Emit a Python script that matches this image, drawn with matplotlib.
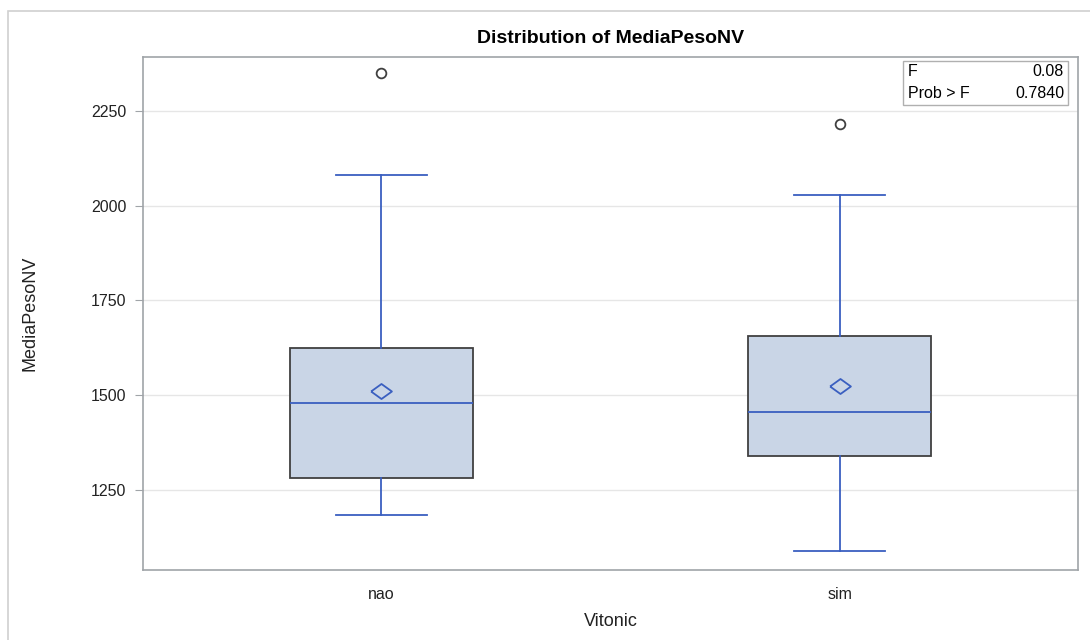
import matplotlib
matplotlib.use('Agg')
import matplotlib.pyplot as plt
from matplotlib.patches import Rectangle

# values
groups = ['nao', 'sim']
whislo = [1184, 1089]
q1 = [1282, 1340]
med = [1479, 1455]
q3 = [1625, 1657]
whishi = [2081, 2029]
means = [1511, 1524]
outliers = [[2350], [2216]]
f_value = '0.08'
prob_f = '0.7840'
yticks = [1250, 1500, 1750, 2000, 2250]

blue = '#3a5fc0'
fill = '#c9d5e6'

plt.rcParams['font.family'] = ['Liberation Sans', 'DejaVu Sans']

fig = plt.figure(figsize=(10.9, 6.4), dpi=100)
fig.patches.append(Rectangle((8 / 1090, -0.05), 1.2, 1.05 - 11 / 640,
                             transform=fig.transFigure, fill=False,
                             edgecolor='#d0d0d0', linewidth=1.2))
ax = fig.add_axes([143 / 1090, 70 / 640, 935 / 1090, 513 / 640])

stats = []
for i in range(len(groups)):
    stats.append({'label': groups[i], 'whislo': whislo[i], 'q1': q1[i],
                  'med': med[i], 'q3': q3[i], 'whishi': whishi[i],
                  'mean': means[i], 'fliers': outliers[i]})

diamond = [(-1, 0), (0, 0.72), (1, 0), (0, -0.72), (-1, 0)]
ax.bxp(stats, positions=[0.01, 0.99], widths=0.39,
       patch_artist=True, showmeans=True, capwidths=0.195,
       boxprops=dict(facecolor=fill, edgecolor='#404040', linewidth=1.3),
       medianprops=dict(color=blue, linewidth=1.3),
       whiskerprops=dict(color=blue, linewidth=1.3),
       capprops=dict(color=blue, linewidth=1.3),
       meanprops=dict(marker=diamond, markerfacecolor='none',
                      markeredgecolor=blue, markersize=15,
                      markeredgewidth=1.3),
       flierprops=dict(marker='o', markerfacecolor='none',
                       markeredgecolor='#404040', markersize=7,
                       markeredgewidth=1.3))

ax.set_xlim(-0.5, 1.5)
ax.set_xticks([0.01, 0.99])
ax.set_xticklabels(groups)
ax.set_ylim(1039, 2392)
ax.set_yticks(yticks)
ax.set_yticklabels([str(t) for t in yticks])
ax.grid(axis='y', color='#e6e6e6', linewidth=1)
ax.set_axisbelow(True)
for s in ax.spines.values():
    s.set_color('#a0a4a8')
    s.set_linewidth(1.2)
ax.tick_params(colors='#a0a4a8', labelcolor='#222222', labelsize=11.5,
               length=6, pad=6)
ax.tick_params(axis='x', length=0, pad=12)

ax.set_xlabel('Vitonic', fontsize=13, color='#222222', labelpad=8)
ax.set_ylabel('MediaPesoNV', fontsize=13, color='#222222', labelpad=38)
ax.set_title('Distribution of MediaPesoNV', fontsize=14, fontweight='bold',
             pad=10)

# F test inset
ax.add_patch(Rectangle(((903 - 143) / 935, 1 - (105 - 57) / 513),
                       165 / 935, 44 / 513, transform=ax.transAxes,
                       facecolor='white', edgecolor='#b0b0b0', linewidth=1,
                       zorder=5))
x0 = (908 - 143) / 935
x1 = (1064 - 143) / 935
ax.text(x0, 1 - (72 - 57) / 513, 'F', transform=ax.transAxes, fontsize=11.5,
        va='center', zorder=6)
ax.text(x1, 1 - (72 - 57) / 513, f_value, transform=ax.transAxes,
        fontsize=11.5, va='center', ha='right', zorder=6)
ax.text(x0, 1 - (93 - 57) / 513, 'Prob > F', transform=ax.transAxes,
        fontsize=11.5, va='center', zorder=6)
ax.text(x1, 1 - (93 - 57) / 513, prob_f, transform=ax.transAxes,
        fontsize=11.5, va='center', ha='right', zorder=6)

fig.savefig('out.png', dpi=100)
